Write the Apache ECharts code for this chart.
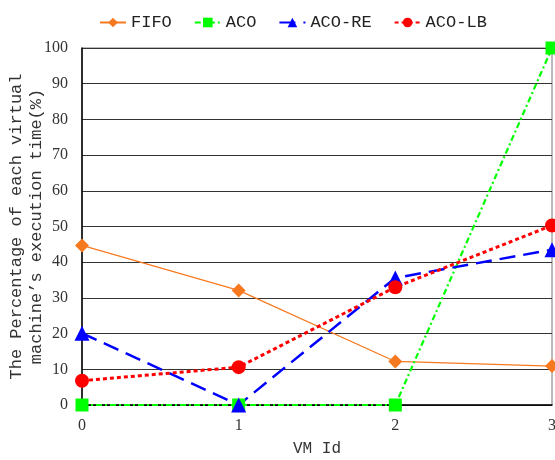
<!DOCTYPE html>
<html>
<head>
<meta charset="utf-8">
<script src="https://cdn.jsdelivr.net/npm/echarts@6/dist/echarts.min.js"></script>
<style>html,body{margin:0;padding:0;background:#fff}#c{width:555px;height:460px}</style>
</head>
<body>
<div id="c"></div>
<script>
var categories = ['0', '1', '2', '3'];
var fifo = [44.7, 32.1, 12.2, 10.9];
var aco = [0, 0, 0, 100];
var acoRe = [20.1, 0, 35.6, 43.5];
var acoLb = [6.8, 10.6, 33.0, 50.3];
var yTicks = { min: 0, max: 100, interval: 10 };

var chart = echarts.init(document.getElementById('c'));
var serifFont = 'Liberation Serif';
var monoFont = 'Liberation Mono';
chart.setOption({
  animation: false,
  legend: {
    top: 9,
    left: 94,
    itemWidth: 26,
    itemHeight: 12,
    itemGap: 22,
    textStyle: { fontFamily: monoFont, fontSize: 17, color: '#222' },
    data: ['FIFO', 'ACO', 'ACO-RE', 'ACO-LB']
  },
  grid: { left: 82, right: 3, top: 48, bottom: 55, containLabel: false, outerBoundsMode: 'none', show: true, borderColor: '#777', borderWidth: 1 },
  xAxis: {
    type: 'category',
    data: categories,
    boundaryGap: false,
    name: 'VM Id',
    nameLocation: 'middle',
    nameGap: 36,
    nameMoveOverlap: false,
    nameTextStyle: { fontFamily: monoFont, fontSize: 16, color: '#333' },
    axisLine: { lineStyle: { color: '#000', width: 1.5 } },
    axisTick: { show: false },
    axisLabel: { fontFamily: serifFont, fontSize: 16, color: '#333', margin: 13 },
    splitLine: { show: false }
  },
  yAxis: {
    type: 'value',
    min: yTicks.min,
    max: yTicks.max,
    interval: yTicks.interval,
    name: 'The Percentage of each virtual\nmachine’s execution time(%)',
    nameLocation: 'middle',
    nameGap: 36,
    nameMoveOverlap: false,
    nameTextStyle: { fontFamily: monoFont, fontSize: 17, color: '#333', lineHeight: 20 },
    axisLine: { show: true, lineStyle: { color: '#000', width: 1.5 } },
    axisTick: { show: false },
    axisLabel: { fontFamily: serifFont, fontSize: 16, color: '#333', margin: 14 },
    splitLine: { show: true, lineStyle: { color: '#333', width: 1.2 } }
  },
  series: [
    {
      name: 'FIFO', type: 'line', data: fifo,
      symbol: 'diamond', symbolSize: 14,
      lineStyle: { color: '#F7791F', width: 1.2, type: 'solid' },
      itemStyle: { color: '#F7791F' }
    },
    {
      name: 'ACO', type: 'line', data: aco,
      symbol: 'rect', symbolSize: 13,
      lineStyle: { color: '#00FF00', width: 2.2, type: [6, 3, 2, 3] },
      itemStyle: { color: '#00FF00' }
    },
    {
      name: 'ACO-RE', type: 'line', data: acoRe,
      symbol: 'triangle', symbolSize: 15,
      lineStyle: { color: '#0000FF', width: 2.5, type: [16, 8] },
      itemStyle: { color: '#0000FF' }
    },
    {
      name: 'ACO-LB', type: 'line', data: acoLb,
      symbol: 'circle', symbolSize: 14,
      lineStyle: { color: '#FF0000', width: 3, type: [4, 3] },
      itemStyle: { color: '#FF0000' }
    }
  ]
});
</script>
</body>
</html>
